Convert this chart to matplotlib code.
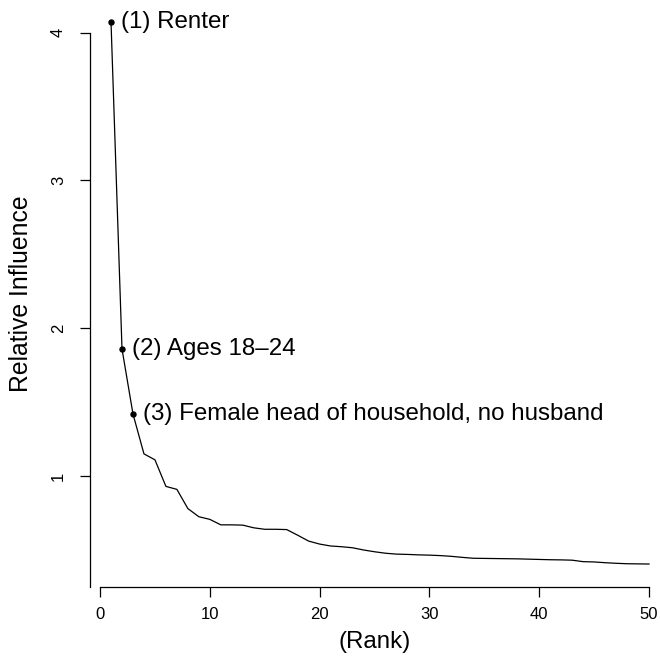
import matplotlib
matplotlib.use("Agg")
import matplotlib.pyplot as plt
import numpy as np

plt.rcParams['font.family'] = ['Liberation Sans', 'DejaVu Sans']

# relative influence by rank
rank = np.arange(1, 51)
influence = [
    4.07, 1.86, 1.42, 1.15, 1.11, 0.93, 0.91, 0.78, 0.725, 0.707,
    0.67, 0.67, 0.668, 0.65, 0.64, 0.64, 0.638, 0.60, 0.56, 0.54,
    0.527, 0.522, 0.515, 0.50, 0.488, 0.478, 0.472, 0.470, 0.467, 0.465,
    0.462, 0.457, 0.450, 0.444, 0.443, 0.442, 0.441, 0.440, 0.438, 0.436,
    0.434, 0.433, 0.431, 0.421, 0.419, 0.414, 0.410, 0.407, 0.406, 0.405,
]
top_labels = ["(1) Renter", "(2) Ages 18\u201324",
              "(3) Female head of household, no husband"]
x_ticks = [0, 10, 20, 30, 40, 50]
y_ticks = [1, 2, 3, 4]

fig = plt.figure(figsize=(6.6, 6.62), dpi=100)
ax = fig.add_axes([89.5 / 660, 75.5 / 662, (660 - 89.5) / 660, 586.5 / 662])

ax.plot(rank, influence, color='black', lw=0.9)
ax.plot(rank[:3], influence[:3], 'o', color='black', ms=3.6)
for i, lab in enumerate(top_labels):
    ax.annotate(lab, (rank[i], influence[i]), xytext=(7, 0),
                textcoords='offset points', va='center', ha='left', fontsize=17.4)

ax.set_xlim(-0.96, 51.0)
ax.set_ylim(0.253, 4.22)

for side in ('top', 'right'):
    ax.spines[side].set_visible(False)
ax.spines['left'].set_bounds(0.253, 4)
ax.spines['bottom'].set_bounds(0, 50)
for side in ('left', 'bottom'):
    ax.spines[side].set_linewidth(0.9)

ax.set_xticks(x_ticks)
ax.set_yticks(y_ticks)
ax.tick_params(axis='both', length=7, width=0.9, labelsize=12)
ax.tick_params(axis='x', pad=8)
ax.tick_params(axis='y', pad=10)
for t in ax.get_yticklabels():
    t.set_rotation(90)
    t.set_va('center')

ax.set_xlabel("(Rank)", fontsize=17.4, labelpad=6)
ax.set_ylabel("Relative Influence", fontsize=17.8, labelpad=13)

fig.savefig("out.png", dpi=100)
